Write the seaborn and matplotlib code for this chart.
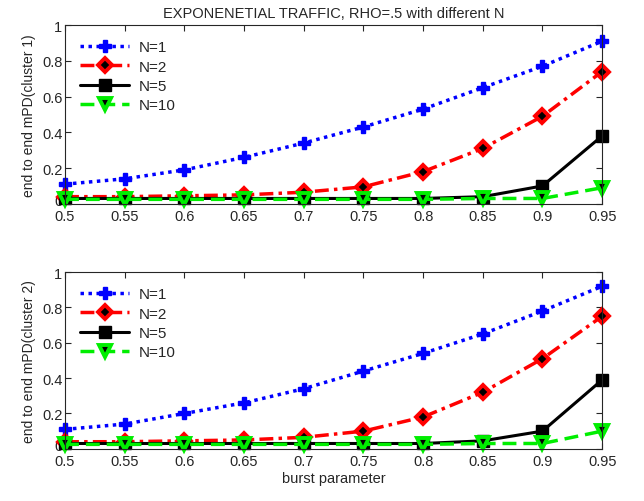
import numpy as np
import pandas as pd
import matplotlib
matplotlib.use("Agg")
import matplotlib.pyplot as plt
import matplotlib.transforms as mtransforms
import seaborn as sns

# burst parameter values (x axis)
burst = [0.5, 0.55, 0.6, 0.65, 0.7, 0.75, 0.8, 0.85, 0.9, 0.95]
xtick_labels = ["0.5", "0.55", "0.6", "0.65", "0.7", "0.75", "0.8", "0.85", "0.9", "0.95"]
ytick_labels = ["0", "0.2", "0.4", "0.6", "0.8", "1"]

# cluster 1
c1_n1 = [0.11, 0.14, 0.19, 0.26, 0.34, 0.43, 0.53, 0.65, 0.77, 0.91]
c1_n2 = [0.04, 0.04, 0.045, 0.05, 0.065, 0.095, 0.18, 0.31, 0.49, 0.74]
c1_n5 = [0.03, 0.03, 0.03, 0.03, 0.03, 0.03, 0.03, 0.04, 0.10, 0.38]
c1_n10 = [0.025, 0.025, 0.025, 0.025, 0.025, 0.025, 0.025, 0.03, 0.03, 0.09]

# cluster 2
c2_n1 = [0.11, 0.14, 0.20, 0.26, 0.34, 0.44, 0.54, 0.65, 0.78, 0.92]
c2_n2 = [0.04, 0.04, 0.045, 0.05, 0.065, 0.10, 0.18, 0.32, 0.51, 0.75]
c2_n5 = [0.03, 0.03, 0.03, 0.03, 0.03, 0.03, 0.03, 0.045, 0.10, 0.39]
c2_n10 = [0.025, 0.025, 0.025, 0.025, 0.025, 0.025, 0.025, 0.03, 0.03, 0.10]

labels = ["N=1", "N=2", "N=5", "N=10"]

sns.set_style("ticks")
plt.rcParams["font.family"] = ["Liberation Sans", "DejaVu Sans"]
plt.rcParams["xtick.direction"] = "in"
plt.rcParams["ytick.direction"] = "in"

styles = {
    "N=1": dict(color="#0000ff", ls=(0, (1, 1.3)), marker="P", ms=8, mfc="#0000ff", mec="#0000ff", lw=2.5),
    "N=2": dict(color="#ff0000", ls=(0, (4, 1.5, 1, 1.5)), marker="D", ms=7, mfc="black", mec="#ff0000", mew=2.8, lw=2.5),
    "N=5": dict(color="black", ls="-", marker="s", ms=8, mfc="black", mec="black", lw=2.2),
    "N=10": dict(color="#00ee00", ls=(0, (4, 2)), marker="v", ms=8, mfc="black", mec="#00ee00", mew=2.8, lw=2.5),
}

fig = plt.figure(figsize=(6.44, 5.02), dpi=100)
ax1 = fig.add_axes([0.101, 0.592, 0.834, 0.356])
ax2 = fig.add_axes([0.101, 0.104, 0.834, 0.352])

panels = [(ax1, [c1_n1, c1_n2, c1_n5, c1_n10], "end to end mPD(cluster 1)"),
          (ax2, [c2_n1, c2_n2, c2_n5, c2_n10], "end to end mPD(cluster 2)")]

for ax, series, ylab in panels:
    df = pd.DataFrame({"burst": burst * 4,
                       "val": np.concatenate(series),
                       "N": np.repeat(labels, len(burst))})
    for lab in labels:
        st = styles[lab]
        sns.lineplot(data=df[df["N"] == lab], x="burst", y="val", ax=ax,
                     color=st["color"], linestyle=st["ls"], linewidth=st["lw"],
                     marker=st["marker"], markersize=st["ms"],
                     markerfacecolor=st["mfc"], markeredgecolor=st["mec"],
                     markeredgewidth=st.get("mew", 1), label=lab)
    ax.set_xlim(0.5, 0.95)
    ax.set_ylim(0, 1)
    ax.set_xticks(burst)
    ax.set_xticklabels(xtick_labels, fontsize=10.5)
    ax.set_yticks([0, 0.2, 0.4, 0.6, 0.8, 1.0])
    ax.set_yticklabels(ytick_labels, fontsize=10.5)
    ax.tick_params(top=True, right=True, length=4, width=0.8)
    ax.tick_params(axis="x", pad=4)
    ax.tick_params(axis="y", pad=2)
    # lift the "0" label a little so it does not run into "0.5"
    zero = ax.get_yticklabels()[0]
    zero.set_transform(zero.get_transform() +
                       mtransforms.ScaledTranslation(0, 3 / 72, fig.dpi_scale_trans))
    for sp in ax.spines.values():
        sp.set_linewidth(0.8)
    ax.set_ylabel(ylab, fontsize=10)
    ax.set_xlabel("")
    for m in ax.lines:
        m.set_clip_on(False)
    ax.legend(loc="upper left", frameon=False, fontsize=11, handlelength=3.2,
              borderaxespad=0.6, labelspacing=0.35, handletextpad=0.6)

ax1.set_title("EXPONENETIAL TRAFFIC, RHO=.5 with different N", fontsize=10.5, pad=6)
ax2.set_xlabel("burst parameter", fontsize=10.5, labelpad=2)

fig.savefig("out.png", dpi=100)
